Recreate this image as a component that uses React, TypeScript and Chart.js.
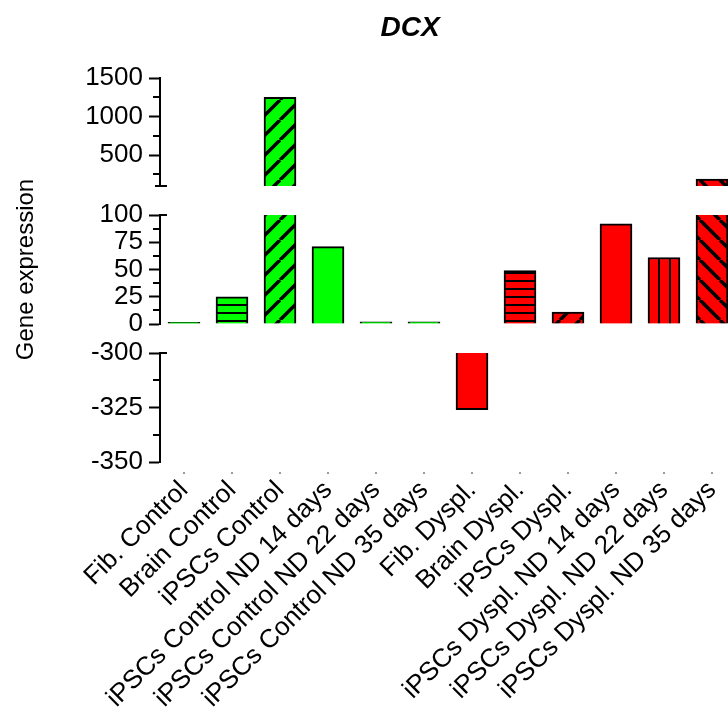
import { useEffect, useRef } from 'react';
import { Chart, registerables } from 'chart.js';

Chart.register(...registerables);

// Sample groups along the x axis
const categories = [
  'Fib. Control',
  'Brain Control',
  'iPSCs Control',
  'iPSCs Control ND 14 days',
  'iPSCs Control ND 22 days',
  'iPSCs Control ND 35 days',
  'Fib. Dyspl.',
  'Brain Dyspl.',
  'iPSCs Dyspl.',
  'iPSCs Dyspl. ND 14 days',
  'iPSCs Dyspl. ND 22 days',
  'iPSCs Dyspl. ND 35 days',
];

// DCX expression per sample
const expression = [1.5, 25, 1250, 71, 2, 2, -326, 49, 11, 92, 61, 190];

// Fill colour and hatch style per sample
const barColors = [
  '#00ff00', '#00ff00', '#00ff00', '#00ff00', '#00ff00', '#00ff00',
  '#ff0000', '#ff0000', '#ff0000', '#ff0000', '#ff0000', '#ff0000',
];
const barHatches = [
  'solid', 'hlines', 'diag', 'solid', 'solid', 'solid',
  'solid', 'hlines', 'diag', 'solid', 'vlines', 'backdiag',
];

// Broken y axis: three segments, each with its own range and ticks
const upperRange = [100, 1500];
const middleRange = [0, 100];
const lowerRange = [-350, -300];
const upperTicks = [500, 1000, 1500];
const middleTicks = [0, 25, 50, 75, 100];
const lowerTicks = [-350, -325, -300];
const upperMinorTicks = [250, 750, 1250];
const middleMinorTicks = [12.5, 37.5, 62.5, 87.5];
const lowerMinorTicks = [-337.5, -312.5];

const FONT = '"Liberation Sans", Arial, Helvetica, sans-serif';
const AXIS_WIDTH = 152;

function makeFill(color: string, hatch: string): string | CanvasPattern {
  if (hatch === 'solid') return color;
  const size = hatch === 'hlines' ? 8 : hatch === 'vlines' ? 11 : 20;
  const tile = document.createElement('canvas');
  tile.width = size;
  tile.height = size;
  const g = tile.getContext('2d')!;
  g.fillStyle = color;
  g.fillRect(0, 0, size, size);
  g.strokeStyle = '#000';
  g.lineWidth = hatch === 'hlines' || hatch === 'vlines' ? 2 : 3.5;
  g.beginPath();
  if (hatch === 'hlines') {
    g.moveTo(0, 1);
    g.lineTo(size, 1);
  } else if (hatch === 'vlines') {
    g.moveTo(10, 0);
    g.lineTo(10, size);
  } else if (hatch === 'diag') {
    for (const o of [-size, 0, size]) {
      g.moveTo(o, size);
      g.lineTo(o + size, 0);
    }
  } else {
    for (const o of [-size, 0, size]) {
      g.moveTo(o, 0);
      g.lineTo(o + size, size);
    }
  }
  g.stroke();
  return g.createPattern(tile, 'repeat')!;
}

// Clip every dataset to the band of its own y segment
const segmentClip = {
  id: 'segmentClip',
  beforeDatasetDraw(chart: any, args: any) {
    const { xScale, yScale } = args.meta;
    const ctx = chart.ctx;
    ctx.save();
    ctx.beginPath();
    ctx.rect(xScale.left, yScale.top, xScale.right - xScale.left, yScale.bottom - yScale.top);
    ctx.clip();
  },
  afterDatasetDraw(chart: any) {
    chart.ctx.restore();
  },
};

// Minor ticks, break caps on the y axis, small tick dots under the x axis
const axisMarks = {
  id: 'axisMarks',
  afterDraw(chart: any) {
    const ctx = chart.ctx;
    const line = (x1: number, y1: number, x2: number, y2: number) => {
      ctx.beginPath();
      ctx.moveTo(x1, y1);
      ctx.lineTo(x2, y2);
      ctx.stroke();
    };
    ctx.save();
    ctx.strokeStyle = '#000';
    ctx.lineWidth = 2;
    const segs: [string, number[]][] = [
      ['yUpper', upperMinorTicks],
      ['yMiddle', middleMinorTicks],
      ['yLower', lowerMinorTicks],
    ];
    for (const [id, minor] of segs) {
      const s = chart.scales[id];
      for (const v of minor) {
        const y = Math.round(s.getPixelForValue(v));
        line(s.right - 7, y, s.right, y);
      }
    }
    const up = chart.scales.yUpper;
    const mid = chart.scales.yMiddle;
    const low = chart.scales.yLower;
    line(up.right - 5, up.bottom, up.right + 7, up.bottom);
    line(mid.right, mid.top, mid.right + 7, mid.top);
    line(low.right, low.top, low.right + 7, low.top);

    const xs = chart.scales.x;
    ctx.fillStyle = '#9a9a9a';
    categories.forEach((_, i) => {
      const px = Math.round(xs.getPixelForValue(i));
      ctx.fillRect(px - 1, xs.top + 10, 2, 2);
    });
    ctx.restore();
  },
};

// Italic bold heading above the plot
const heading = {
  id: 'heading',
  afterDraw(chart: any) {
    const ctx = chart.ctx;
    ctx.save();
    ctx.font = `italic bold 28px ${FONT}`;
    ctx.fillStyle = '#000';
    ctx.textAlign = 'center';
    ctx.textBaseline = 'middle';
    ctx.fillText('DCX', 410, 28);
    ctx.restore();
  },
};

function segmentAxis(range: number[], ticks: number[], stackWeight: number, weight: number, extra: any = {}) {
  return {
    type: 'linear',
    position: 'left',
    stack: 'gene',
    stackWeight,
    weight,
    min: range[0],
    max: range[1],
    afterBuildTicks: (s: any) => {
      s.ticks = ticks.map((v) => ({ value: v }));
    },
    afterFit: (s: any) => {
      s.width = AXIS_WIDTH;
    },
    ticks: {
      autoSkip: false,
      color: '#000',
      padding: 6,
      font: { size: 26, family: FONT },
      callback: (v: number) => String(v),
    },
    grid: {
      display: true,
      drawOnChartArea: false,
      drawTicks: true,
      tickLength: 11,
      tickColor: '#000',
      tickWidth: 2,
    },
    border: { display: true, color: '#000', width: 2 },
    ...extra,
  };
}

function spacerAxis(stackWeight: number, weight: number) {
  return {
    type: 'linear',
    position: 'left',
    stack: 'gene',
    stackWeight,
    weight,
    afterFit: (s: any) => {
      s.width = AXIS_WIDTH;
    },
    ticks: { display: false },
    grid: { display: false, drawTicks: false },
    border: { display: false },
  };
}

export default function App() {
  const canvasRef = useRef<HTMLCanvasElement>(null);

  useEffect(() => {
    if (!canvasRef.current) return;
    const fills = expression.map((_, i) => makeFill(barColors[i], barHatches[i]));
    const points = expression.map((v, i) => ({ x: i, y: v }));
    const datasets = ['yUpper', 'yMiddle', 'yLower'].map((axisId) => ({
      type: 'bar' as const,
      label: 'DCX',
      yAxisID: axisId,
      xAxisID: 'x',
      data: points,
      backgroundColor: fills,
      borderColor: '#000',
      borderWidth: 2,
      barThickness: 32,
      grouped: false,
      clip: 0,
    }));

    const chart = new Chart(canvasRef.current, {
      type: 'bar',
      data: { datasets } as any,
      options: {
        animation: false,
        responsive: false,
        layout: { padding: { left: 8, top: 78, right: 0, bottom: 0 } },
        plugins: {
          legend: { display: false },
          tooltip: { enabled: false },
          title: { display: false },
        },
        scales: {
          x: {
            type: 'linear',
            position: 'bottom',
            offset: false,
            min: -0.5,
            max: -0.5 + 568 / 48,
            afterBuildTicks: (s: any) => {
              s.ticks = categories.map((_, i) => ({ value: i }));
            },
            afterFit: (s: any) => {
              s.height = 253;
              s.paddingLeft = 0;
              s.paddingRight = 0;
            },
            ticks: {
              autoSkip: false,
              minRotation: 45,
              maxRotation: 45,
              padding: 3,
              color: '#000',
              font: { size: 26, family: FONT },
              callback: (v: number) => categories[v] ?? '',
            },
            grid: { display: false, offset: false, drawTicks: true, tickLength: 10 },
            border: { display: false },
          },
          yUpper: segmentAxis(upperRange, upperTicks, 108, 5),
          gapA: spacerAxis(29, 4),
          yMiddle: segmentAxis(middleRange, middleTicks, 109, 3, {
            title: {
              display: true,
              text: 'Gene expression',
              color: '#000',
              font: { size: 24, family: FONT, lineHeight: 1.2 },
              padding: { top: 4, bottom: 0 },
            },
          }),
          gapB: spacerAxis(29, 2),
          yLower: segmentAxis(lowerRange, lowerTicks, 109, 1),
        } as any,
      },
      plugins: [segmentClip, axisMarks, heading],
    });
    return () => chart.destroy();
  }, []);

  return (
    <div style={{ position: 'fixed', left: 0, top: 0, width: 728, height: 715, background: '#fff' }}>
      <canvas ref={canvasRef} width={728} height={715} style={{ display: 'block' }} />
    </div>
  );
}
